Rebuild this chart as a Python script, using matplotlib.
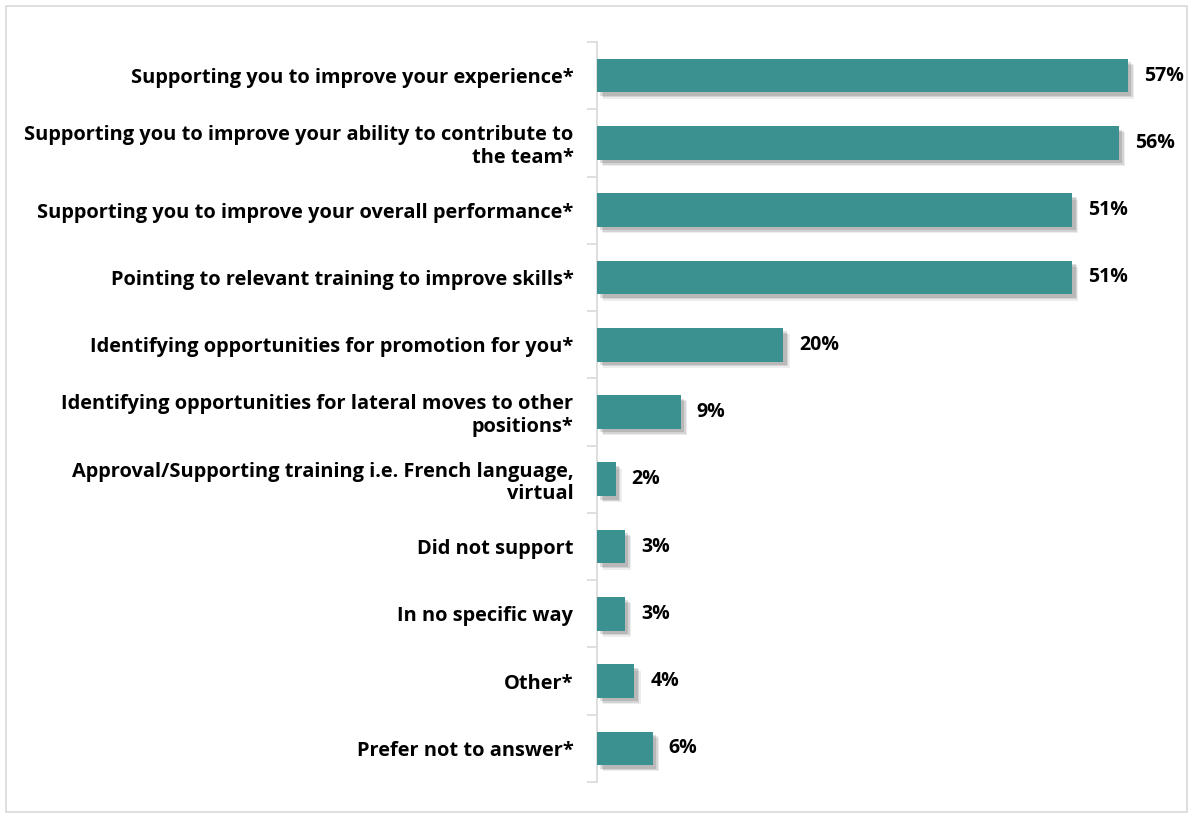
import matplotlib
matplotlib.use("Agg")
import matplotlib.pyplot as plt
import matplotlib.patheffects as pe
from matplotlib.patches import Rectangle

categories = [
    "Supporting you to improve your experience*",
    "Supporting you to improve your ability to contribute to\nthe team*",
    "Supporting you to improve your overall performance*",
    "Pointing to relevant training to improve skills*",
    "Identifying opportunities for promotion for you*",
    "Identifying opportunities for lateral moves to other\npositions*",
    "Approval/Supporting training i.e. French language,\nvirtual",
    "Did not support",
    "In no specific way",
    "Other*",
    "Prefer not to answer*",
]
values = [57, 56, 51, 51, 20, 9, 2, 3, 3, 4, 6]
value_labels = ["57%", "56%", "51%", "51%", "20%", "9%", "2%", "3%", "3%", "4%", "6%"]

W, H = 1190, 815
fig = plt.figure(figsize=(W / 100, H / 100), dpi=100)
plt.rcParams['font.family'] = ['Open Sans', 'DejaVu Sans']
FS = 14.4

# figure border
fig.patches.append(Rectangle((6 / W, 3 / H), (W - 9) / W, (H - 9) / H,
                             transform=fig.transFigure, fill=False,
                             edgecolor="#d9d9d9", linewidth=1.2))

ax_left, ax_right = 597, 1180
ax_top, ax_bot = 42, 782
ax = fig.add_axes([ax_left / W, 1 - ax_bot / H, (ax_right - ax_left) / W, (ax_bot - ax_top) / H])

n = len(categories)
ypos = list(range(n))
shadow = [pe.SimplePatchShadow(offset=(4.5, -4.5), shadow_rgbFace="#000000", alpha=0.07),
          pe.SimplePatchShadow(offset=(3.5, -3.5), shadow_rgbFace="#000000", alpha=0.10),
          pe.SimplePatchShadow(offset=(2.5, -2.5), shadow_rgbFace="#000000", alpha=0.13),
          pe.Normal()]
bars = ax.barh(ypos, values, height=0.5, color="#3A9190", zorder=3)
for b in bars:
    b.set_path_effects(shadow)

ax.set_xlim(0, (ax_right - ax_left) / 9.316)
ax.set_ylim(n - 0.5, -0.5)

for y, v, lab in zip(ypos, values, value_labels):
    ax.annotate(lab, xy=(v, y), xytext=(11.5, 0), textcoords="offset points",
                ha="left", va="center", fontsize=14, fontweight="bold", color="#000000")

ax.set_yticks(ypos)
ax.set_yticklabels(categories, fontsize=FS, fontweight="bold", ha="right",
                   multialignment="right", linespacing=1.15)
ax.tick_params(axis="y", length=0, pad=17)
# minor ticks at category boundaries
ax.set_yticks([i - 0.5 for i in range(n + 1)], minor=True)
ax.tick_params(axis="y", which="minor", length=7, color="#d9d9d9", width=1.2)
ax.set_xticks([])

for s in ["top", "right", "bottom"]:
    ax.spines[s].set_visible(False)
ax.spines["left"].set_color("#d9d9d9")
ax.spines["left"].set_linewidth(1.2)
ax.patch.set_alpha(0)

fig.savefig("out.png", dpi=100)
